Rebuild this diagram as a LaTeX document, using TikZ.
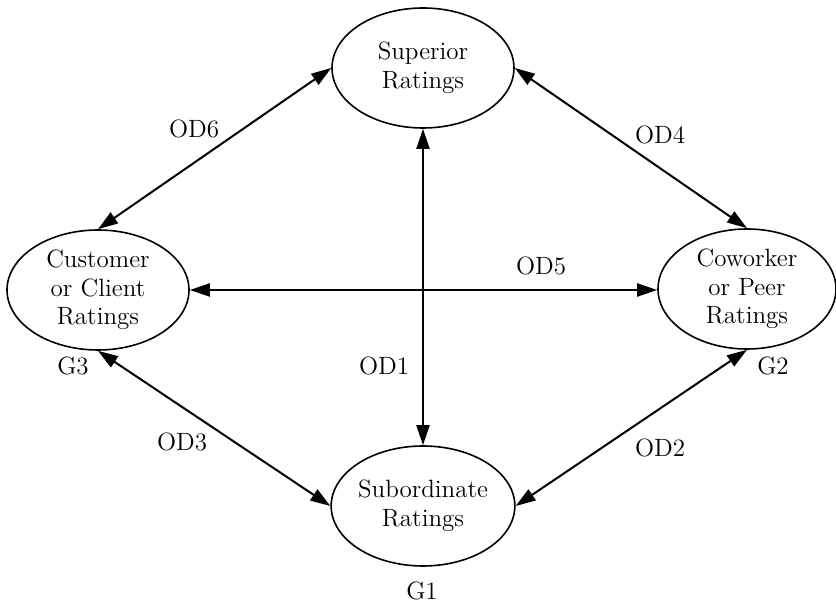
\documentclass[tikz,border=0pt]{standalone}
\usetikzlibrary{arrows.meta,shapes.geometric}
\begin{document}
\begin{tikzpicture}[x=0.5pt,y=-0.5pt,
  rating/.style={ellipse,draw,line width=0.8pt,inner sep=0pt,
    minimum width=91pt,minimum height=60pt,align=center,
    font=\fontsize{12.5pt}{14.3pt}\selectfont},
  tag/.style={inner sep=0pt,font=\fontsize{12.5pt}{14.3pt}\selectfont},
  link/.style={line width=1pt,
    {Triangle[length=10pt,width=6.5pt]}-{Triangle[length=10pt,width=6.5pt]}}]
  \useasboundingbox (0,0) rectangle (836,603);

  % the four rating sources
  \node[rating] (sup) at (423,68) {Superior\\Ratings};
  \node[rating] (cust) at (98,290) {Customer\\or Client\\Ratings};
  \node[rating,minimum width=89pt] (cow) at (747,289) {Coworker\\or Peer\\Ratings};
  \node[rating] (sub) at (423,506) {Subordinate\\Ratings};

  % pairwise comparisons
  \draw[link] (sup.west) -- (cust.north);
  \draw[link] (sup.east) -- (cow.north);
  \draw[link] (cust.east) -- (cust.east -| cow.west);
  \draw[link] (sup.south) -- (sub.north);
  \draw[link] (cust.south) -- (sub.west);
  \draw[link] (cow.south) -- (sub.east);

  % comparison labels
  \node[tag] (od6) at (194,129) {OD6};
  \node[tag] (od4) at (660,135) {OD4};
  \node[tag] (od5) at (541,266) {OD5};
  \node[tag] (od1) at (384,366) {OD1};
  \node[tag] (od3) at (182,442) {OD3};
  \node[tag] (od2) at (660,448) {OD2};

  % group labels
  \node[tag] (g3) at (73,366) {G3};
  \node[tag] (g2) at (773,366) {G2};
  \node[tag] (g1) at (422,591) {G1};
\end{tikzpicture}
\end{document}
